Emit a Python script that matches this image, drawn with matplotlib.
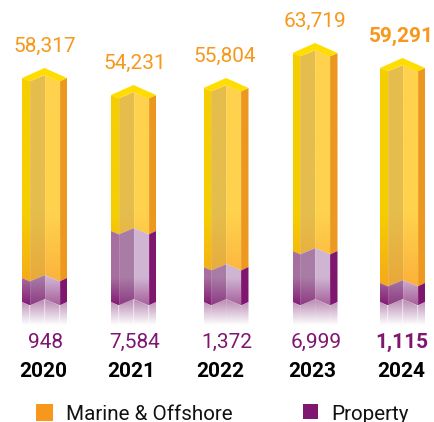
import numpy as np
import matplotlib
matplotlib.use('Agg')
import matplotlib.pyplot as plt
from matplotlib.colors import to_rgb
from matplotlib.patches import Polygon

years = ['2020', '2021', '2022', '2023', '2024']
marine_labels = ['58,317', '54,231', '55,804', '63,719', '59,291']
property_labels = ['948', '7,584', '1,372', '6,999', '1,115']
# heights as drawn in the picture, the segments are not to scale with the labels
marine_drawn = [200, 136, 179, 198, 215]
property_drawn = [24, 71, 35, 51, 19]

W, H = 434, 422
ORANGE = '#F7981D'
PURPLE = '#7F1670'
FONT = ['Roboto', 'DejaVu Sans']

centres = [44.5, 133.5, 226, 315, 402.5]
marine_x = [44.5, 134.5, 225, 315, 401.5]
property_x = [45.5, 135, 227, 316, 401.5]
year_x = [43.5, 131.5, 220.5, 312, 401]
baseline = 302
# zigzag of the front edge: x offset from the centre, y offset from the corner
edge_dx = np.array([-22.5, -15, 0, 15, 22.5])
edge_dy = np.array([0, 3.5, -3, 3.5, 0])

# top colour, bottom colour of each of the four faces
marine_faces = [('#F5CE00', '#F5A81C'), ('#E5BD4C', '#E8A838'),
                ('#FFD24D', '#FBB03B'), ('#EC971F', '#EF9A1E')]
property_faces = [('#A76FA0', '#842076'), ('#A97CA6', '#8F3F85'),
                  ('#D0B5D3', '#A8669E'), ('#7F166F', '#7F166F')]
roof_colour = '#FFDD00'

fig = plt.figure(figsize=(W / 100, H / 100), dpi=100)
ax = fig.add_axes([0, 0, 1, 1])
ax.set_xlim(0, W)
ax.set_ylim(H, 0)
ax.axis('off')


def gradient_face(xs, top, bottom, c_top, c_bottom, g0, g1, a_top=1.0, a_bot=1.0):
    # polygon between two zigzag edges, the gradient runs from y=g0 to y=g1 on the page
    poly = Polygon(list(zip(xs, top)) + list(zip(xs[::-1], bottom[::-1])),
                   closed=True, fc='none', ec='none')
    ax.add_patch(poly)
    y0, y1 = min(top), max(bottom)
    t = np.clip((np.linspace(y0, y1, 256) - g0) / (g1 - g0), 0, 1)[:, None]
    rgba = np.zeros((256, 1, 4))
    rgba[:, 0, :3] = (1 - t) * np.array(to_rgb(c_top)) + t * np.array(to_rgb(c_bottom))
    rgba[:, 0, 3] = a_top + (a_bot - a_top) * t[:, 0]
    im = ax.imshow(rgba, extent=[xs[0], xs[1], y1, y0], aspect='auto', zorder=2,
                   interpolation='bilinear')
    im.set_clip_path(poly)


for i, cx in enumerate(centres):
    xs = cx + edge_dx
    b = baseline + edge_dy
    mid = b - property_drawn[i]
    top = mid - marine_drawn[i]
    for f in range(4):
        # faces overlap a little so no white shows between them
        fx = xs[f:f + 2] + np.array([0, 0.6 if f < 3 else 0])
        gradient_face(fx, top[f:f + 2], mid[f:f + 2],
                      marine_faces[f][0], marine_faces[f][1], 215, 288)
        gradient_face(fx, mid[f:f + 2], b[f:f + 2],
                      property_faces[f][0], property_faces[f][1], 278, 304)
        # fading reflection under the bar
        gradient_face(xs[f:f + 2], b[f:f + 2], np.full(2, baseline + 23.0),
                      '#B483AD', '#B483AD', baseline, baseline + 23.0, a_top=0.85, a_bot=0.0)
    # roof
    roof = [(xs[0], top[0]), (cx, top[0] - 10), (xs[4], top[0]),
            (xs[3], top[3]), (cx, top[2]), (xs[1], top[1])]
    ax.add_patch(Polygon(roof, closed=True, fc=roof_colour, ec='none', zorder=3))
    # thin pale seams between the faces
    for f in (1, 2, 3):
        ax.plot([xs[f], xs[f]], [top[f], b[f] + 18], color='white', lw=0.4, alpha=0.2, zorder=4)

    bold = i == len(years) - 1
    weight = 'bold' if bold else 'normal'
    ax.text(marine_x[i], top[0] - 26, marine_labels[i], color=ORANGE, fontsize=15,
            family=FONT, weight=weight, ha='center', va='baseline')
    ax.text(property_x[i], 348, property_labels[i], color=PURPLE, fontsize=15,
            family=FONT, weight=weight, ha='center', va='baseline')
    ax.text(year_x[i], 377, years[i], color='black', fontsize=15, family=FONT,
            weight='bold', ha='center', va='baseline')

# legend
ax.add_patch(plt.Rectangle((36, 404), 17, 17, fc=ORANGE, ec='none'))
ax.text(66, 420, 'Marine & Offshore', color='#111111', fontsize=14.9, family=FONT, va='baseline')
ax.add_patch(plt.Rectangle((303, 404), 15, 15, fc=PURPLE, ec='none'))
ax.text(331, 420, 'Property', color='#111111', fontsize=14.9, family=FONT, va='baseline')

ax.set_xlim(0, W)
ax.set_ylim(H, 0)
fig.savefig('out.png', dpi=100)
